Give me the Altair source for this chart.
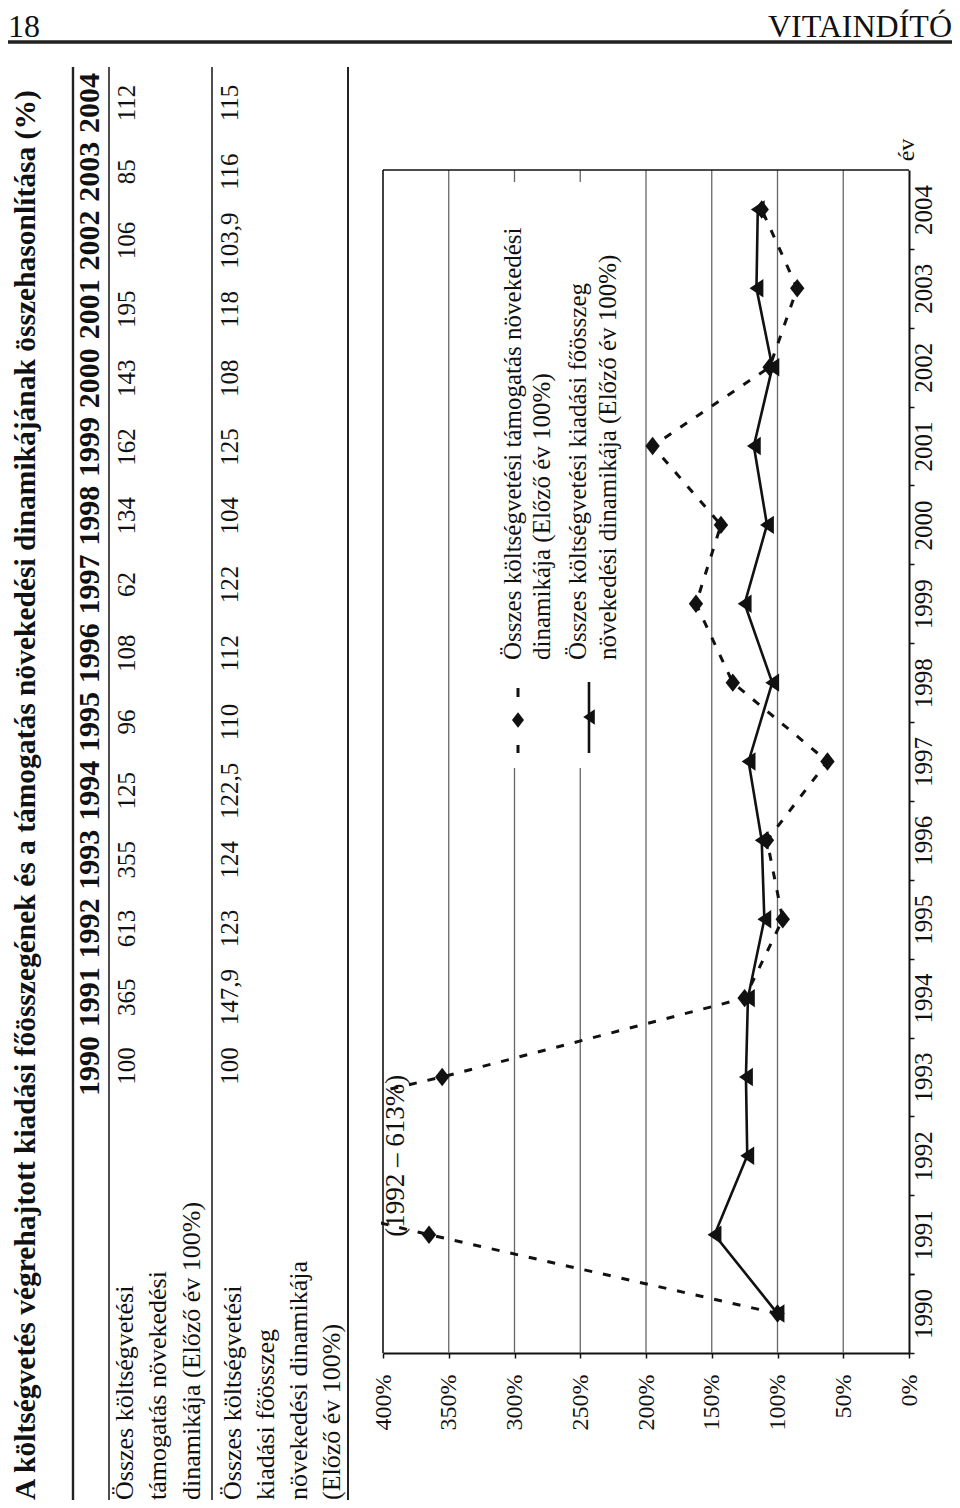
import altair as alt
import pandas as pd

# ---------------- data ----------------
years = list(range(1990, 2005))
support = [100, 365, 613, 355, 125, 96, 108, 62, 134, 162, 143, 195, 106, 85, 112]
expenditure = [100, 147.9, 123, 124, 122.5, 110, 112, 122, 104, 125, 108, 118, 103.9, 116, 115]
value_ticks = [0, 50, 100, 150, 200, 250, 300, 350, 400]
grid_values = [50, 100, 150, 200, 250, 300, 350]

title_text = ("A költségvetés végrehajtott kiadási főösszegének és a támogatás "
              "növekedési dinamikájának összehasonlítása (%)")
row1_label = ["Összes költségvetési", "támogatás növekedési", "dinamikája (Előző év 100%)"]
row2_label = ["Összes költségvetési", "kiadási főösszeg", "növekedési dinamikája", "(Előző év 100%)"]
legend1 = ["Összes költségvetési támogatás növekedési", "dinamikája (Előző év 100%)"]
legend2 = ["Összes költségvetési kiadási főösszeg", "növekedési dinamikája (Előző év 100%)"]
note_text = "(1992 – 613%)"
note_year = 1992
note_value = 390
page_no = "18"
section = "VITAINDÍTÓ"
axis_word = "év"

# ---------------- styles ----------------
FONT = "Liberation Serif"
BLACK = "#111111"
GRID = "#666666"
DIAMOND = "M0,-1L0.78,0L0,1L-0.78,0Z"
TRI_LEFT = "M-0.75,0L0.75,-1L0.75,1Z"


def fmt(v):
    return f"{v:g}".replace(".", ",")


df = pd.DataFrame({"year": years, "support": support, "expenditure": expenditure})
one = pd.DataFrame({"k": [0]})

# plot box in view pixels
PX_L, PX_R, PY_T, PY_B = 375, 901, 162, 1345

xscale = alt.Scale(domain=[0, 400], range=[PX_R, PX_L])
yscale = alt.Scale(type="band", domain=years, range=[PY_B, PY_T], paddingInner=0, paddingOuter=0)

x_axis = alt.Axis(values=value_ticks, labelExpr="datum.value + '%'", orient="bottom", grid=False,
                  labelAngle=270, labelAlign="right", labelBaseline="middle", labelPadding=16,
                  labelFlush=False, labelOverlap=False,
                  tickSize=5, tickColor=BLACK, tickWidth=1.5, domainColor=BLACK, domainWidth=2,
                  labelFont=FONT, labelFontSize=24, labelColor=BLACK, title=None)
y_axis = alt.Axis(orient="right", tickBand="extent", labelAngle=270, labelAlign="center",
                  labelBaseline="middle", labelPadding=9, labelOverlap=False, grid=False,
                  tickSize=5, tickColor=BLACK, tickWidth=1.5, domainColor=BLACK, domainWidth=2,
                  labelFont=FONT, labelFontSize=25, labelColor=BLACK, title=None)


def X(field):
    return alt.X(field, scale=xscale, axis=x_axis)


Y = alt.Y("year:O", scale=yscale, axis=y_axis)


def txt(text, x, y, size, angle=270, align="left", baseline="middle", weight="normal"):
    return alt.Chart(pd.DataFrame({"t": [text]})).mark_text(
        angle=angle, align=align, baseline=baseline, font=FONT, fontSize=size,
        fontWeight=weight, color=BLACK
    ).encode(x=alt.value(x), y=alt.value(y), text="t:N")


def vrule(x, y1, y2, w, color="#222222", dash=None):
    kw = dict(color=color, strokeWidth=w)
    if dash:
        kw["strokeDash"] = dash
    return alt.Chart(one).mark_rule(**kw).encode(x=alt.value(x), y=alt.value(y1), y2=alt.value(y2))


# ---------------- chart panel ----------------
grid = alt.Chart(pd.DataFrame({"g": grid_values})).mark_rule(color=GRID, strokeWidth=1.3).encode(
    x=X("g:Q"), y=alt.value(PY_T), y2=alt.value(PY_B))

legend_box = alt.Chart(one).mark_rect(fill="white").encode(
    x=alt.value(462), x2=alt.value(627), y=alt.value(174), y2=alt.value(760))

frame_top = alt.Chart(one).mark_rule(color=BLACK, strokeWidth=1.6).encode(
    x=alt.value(PX_L), x2=alt.value(PX_R), y=alt.value(PY_T))
frame_left = vrule(PX_L, PY_T, PY_B, 1.6, BLACK)

base = alt.Chart(df)
sup_line = base.mark_line(color=BLACK, strokeWidth=3, strokeDash=[8, 11]).encode(
    x=X("support:Q"), y=Y, order="year:Q")
sup_pts = base.mark_point(shape=DIAMOND, filled=True, fill=BLACK, size=340, strokeWidth=0, opacity=1).encode(
    x=X("support:Q"), y=Y)
exp_line = base.mark_line(color=BLACK, strokeWidth=2.6).encode(
    x=X("expenditure:Q"), y=Y, order="year:Q")
exp_pts = base.mark_point(shape=TRI_LEFT, filled=True, fill=BLACK, size=340, strokeWidth=0, opacity=1).encode(
    x=X("expenditure:Q"), y=Y)

note = alt.Chart(pd.DataFrame({"year": [note_year], "v": [note_value], "t": [note_text]})).mark_text(
    angle=270, align="center", baseline="middle", font=FONT, fontSize=27, color=BLACK
).encode(x=X("v:Q"), y=Y, text="t:N")

chart_panel = alt.layer(grid, legend_box, frame_top, frame_left, sup_line, exp_line, sup_pts, exp_pts, note)

# legend (rotated, drawn by hand)
leg = [
    vrule(510, 680, 745, 3, BLACK, [9, 48]),
    alt.Chart(one).mark_point(shape=DIAMOND, filled=True, fill=BLACK, size=240, strokeWidth=0, opacity=1).encode(
        x=alt.value(510), y=alt.value(712)),
    vrule(581, 674, 745, 2.6, BLACK),
    alt.Chart(one).mark_point(shape=TRI_LEFT, filled=True, fill=BLACK, size=240, strokeWidth=0, opacity=1).encode(
        x=alt.value(581), y=alt.value(709)),
    txt(legend1[0], 505, 652, 25),
    txt(legend1[1], 534, 652, 25),
    txt(legend2[0], 570, 652, 25),
    txt(legend2[1], 600, 652, 25),
    txt(axis_word, 899, 142, 24, align="center"),
]

# mask for the part of the dashed series that leaves the plot (613 %)
mask = alt.Chart(one).mark_rect(fill="white").encode(
    x=alt.value(0), x2=alt.value(373), y=alt.value(150), y2=alt.value(PY_B))

# ---------------- table ----------------
tscale = alt.Scale(type="point", domain=years, range=[1058, 95], padding=0)
TY = alt.Y("year:O", scale=tscale, axis=None)
tab = pd.DataFrame({
    "year": years,
    "ylab": [str(y) for y in years],
    "s": [fmt(v) for v in support],
    "e": [fmt(v) for v in expenditure],
})
tbase = alt.Chart(tab)
hdr = tbase.mark_text(angle=270, align="center", baseline="middle", font=FONT, fontSize=30,
                      fontWeight="bold", color=BLACK).encode(x=alt.value(82), y=TY, text="ylab:N")
r1 = tbase.mark_text(angle=270, align="center", baseline="middle", font=FONT, fontSize=25,
                     color=BLACK).encode(x=alt.value(119), y=TY, text="s:N")
r2 = tbase.mark_text(angle=270, align="center", baseline="middle", font=FONT, fontSize=25,
                     color=BLACK).encode(x=alt.value(222), y=TY, text="e:N")
table_text = alt.layer(hdr, r1, r2)

table_rules = [
    vrule(65, 59, 1492, 2.4),
    vrule(101, 59, 1492, 1.6),
    vrule(204, 59, 1492, 1.6),
    vrule(340, 59, 1492, 2.0),
]
row_labels = [txt(t, x, 1492, 26) for t, x in zip(row1_label, [117, 150, 184])] + \
             [txt(t, x, 1492, 26) for t, x in zip(row2_label, [225, 258, 291, 324])]

title = txt(title_text, 18, 1492, 29.5, weight="bold")

header = [
    txt(page_no, 0, 29, 32, angle=0, align="left", baseline="alphabetic"),
    txt(section, 944, 29, 32, angle=0, align="right", baseline="alphabetic"),
    alt.Chart(one).mark_rule(color="#222222", strokeWidth=3.5).encode(
        x=alt.value(0), x2=alt.value(944), y=alt.value(34)),
]

chart = alt.layer(
    chart_panel, *leg, mask, *table_rules, table_text, *row_labels, title, *header
).resolve_scale(x="independent", y="independent").properties(
    width=901, height=1345,
    autosize=alt.AutoSizeParams(type="none"),
    padding={"left": 0, "top": 0, "right": 43, "bottom": 147},
    background="white",
).configure_view(stroke=None)

chart.save("out.html", embed_options={"renderer": "svg", "actions": False})
